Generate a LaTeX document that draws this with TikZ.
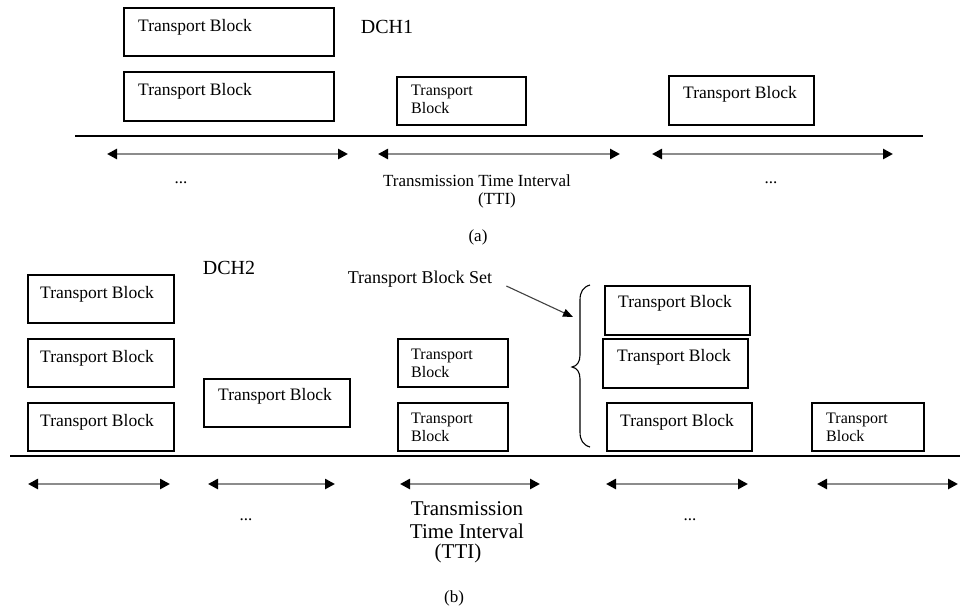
\documentclass[tikz,border=0pt]{standalone}
\usepackage{fontspec}
\setmainfont{Liberation Serif}
\usetikzlibrary{arrows.meta}
\begin{document}
\begin{tikzpicture}[x=1pt,y=-1pt,
  tbox/.style={draw, line width=1.5pt, inner sep=0pt, anchor=north west},
  lbl/.style={inner sep=0pt, anchor=west, font=\fontsize{17.5}{20}\selectfont},
  slbl/.style={inner sep=0pt, anchor=north west, align=left, font=\fontsize{16}{18}\selectfont},
  txt/.style={inner sep=0pt, font=\fontsize{17}{20}\selectfont},
  bigtxt/.style={inner sep=0pt, font=\fontsize{20}{24}\selectfont},
  axis/.style={line width=2pt},
  tti/.style={draw=black!45, line width=2.8pt,
    {Triangle[length=10pt,width=10pt,color=black]}-{Triangle[length=10pt,width=10pt,color=black]}},
  pointer/.style={draw=black!75, line width=1.1pt, -{Triangle[length=10pt,width=8pt,color=black]}}
]
\useasboundingbox (0,0) rectangle (960,611);

% ---------------- (a) ----------------
\node[tbox, minimum width=210pt, minimum height=48pt] (a1) at (123,7) {};
\node[lbl] (a1t) at ([xshift=15pt,yshift=-20pt]a1.north west) {Transport Block};
\node[bigtxt] (dch1) at (387,27) {DCH1};
\node[tbox, minimum width=210pt, minimum height=49pt] (a2) at (123,71) {};
\node[lbl] (a2t) at ([xshift=15pt,yshift=-20pt]a2.north west) {Transport Block};
\node[tbox, minimum width=129pt, minimum height=48pt] (a3) at (396,76) {};
\node[slbl] (a3t) at ([xshift=15pt,yshift=-9pt]a3.north west) {Transport\\Block};
\node[tbox, minimum width=145pt, minimum height=49pt] (a4) at (668,75) {};
\node[lbl] (a4t) at ([xshift=15pt,yshift=-19pt]a4.north west) {Transport Block};

\coordinate (la1) at (75,136);
\coordinate (la2) at (923,136);
\draw[axis] (la1) -- (la2);

\coordinate (pa1) at (107,154); \coordinate (qa1) at (348,154);
\coordinate (pa2) at (378,154); \coordinate (qa2) at (620,154);
\coordinate (pa3) at (652,154); \coordinate (qa3) at (893,154);
\draw[tti] (pa1) -- (qa1);
\draw[tti] (pa2) -- (qa2);
\draw[tti] (pa3) -- (qa3);

\node[txt] (da1) at (181,183) {...};
\node[txt] (ttia) at (477,181) {Transmission Time Interval};
\node[txt] (ttia2) at (497,200) {(TTI)};
\node[txt] (da2) at (771,183) {...};
\node[txt] (capa) at (478,237) {(a)};

% ---------------- (b) ----------------
\node[bigtxt] (dch2) at (229,268) {DCH2};
\node[inner sep=0pt, font=\fontsize{18}{22}\selectfont] (tbs) at (420,279) {Transport Block Set};
\coordinate (tbstip) at (573,317);
\draw[pointer] ([xshift=14pt,yshift=-7pt]tbs.east) -- (tbstip);

\node[tbox, minimum width=146pt, minimum height=48pt] (l1) at (27,274) {};
\node[lbl] (l1t) at ([xshift=13pt,yshift=-20pt]l1.north west) {Transport Block};
\node[tbox, minimum width=146pt, minimum height=48pt] (l2) at (27,338) {};
\node[lbl] (l2t) at ([xshift=13pt,yshift=-20pt]l2.north west) {Transport Block};
\node[tbox, minimum width=146pt, minimum height=48pt] (l3) at (27,402) {};
\node[lbl] (l3t) at ([xshift=13pt,yshift=-20pt]l3.north west) {Transport Block};

\node[tbox, minimum width=146pt, minimum height=48pt] (m1) at (203,378) {};
\node[lbl] (m1t) at ([xshift=15pt,yshift=-18pt]m1.north west) {Transport Block};

\node[tbox, minimum width=110pt, minimum height=48pt] (s1) at (397,338) {};
\node[slbl] (s1t) at ([xshift=14pt,yshift=-11pt]s1.north west) {Transport\\Block};
\node[tbox, minimum width=110pt, minimum height=48pt] (s2) at (397,402) {};
\node[slbl] (s2t) at ([xshift=14pt,yshift=-11pt]s2.north west) {Transport\\Block};

\node[tbox, minimum width=145pt, minimum height=49pt] (r1) at (604,285) {};
\node[lbl] (r1t) at ([xshift=14pt,yshift=-18pt]r1.north west) {Transport Block};
\node[tbox, minimum width=145pt, minimum height=49pt] (r2) at (602,338) {};
\node[lbl] (r2t) at ([xshift=15pt,yshift=-19pt]r2.north west) {Transport Block};
\node[tbox, minimum width=145pt, minimum height=48pt] (r3) at (606,402) {};
\node[lbl] (r3t) at ([xshift=14pt,yshift=-20pt]r3.north west) {Transport Block};

\node[tbox, minimum width=112pt, minimum height=48pt] (s3) at (811,402) {};
\node[slbl] (s3t) at ([xshift=15pt,yshift=-11pt]s3.north west) {Transport\\Block};

% brace
\draw[line width=1.1pt] (590,285) .. controls (583,287) and (580,292) .. (580,300)
  -- (580,355) .. controls (580,362) and (577,366) .. (572,367)
  .. controls (577,368) and (580,372) .. (580,379)
  -- (580,432) .. controls (580,440) and (583,445) .. (590,447);

\coordinate (lb1) at (10,456);
\coordinate (lb2) at (960,456);
\draw[axis] (lb1) -- (lb2);

\coordinate (pb1) at (28,484);  \coordinate (qb1) at (170,484);
\coordinate (pb2) at (208,484); \coordinate (qb2) at (335,484);
\coordinate (pb3) at (400,484); \coordinate (qb3) at (540,484);
\coordinate (pb4) at (606,484); \coordinate (qb4) at (748,484);
\coordinate (pb5) at (817,484); \coordinate (qb5) at (958,484);
\draw[tti] (pb1) -- (qb1);
\draw[tti] (pb2) -- (qb2);
\draw[tti] (pb3) -- (qb3);
\draw[tti] (pb4) -- (qb4);
\draw[tti] (pb5) -- (qb5);

\node[txt] (db1) at (246,520) {...};
\node[txt] (db2) at (690,520) {...};
\node[inner sep=0pt, align=center, font=\fontsize{21}{23}\selectfont] (ttib) at (467,520) {Transmission\\Time Interval};
\node[inner sep=0pt, font=\fontsize{21}{24}\selectfont] (ttib2) at (458,553) {(TTI)};
\node[txt] (capb) at (454,598) {(b)};
\end{tikzpicture}
\end{document}
